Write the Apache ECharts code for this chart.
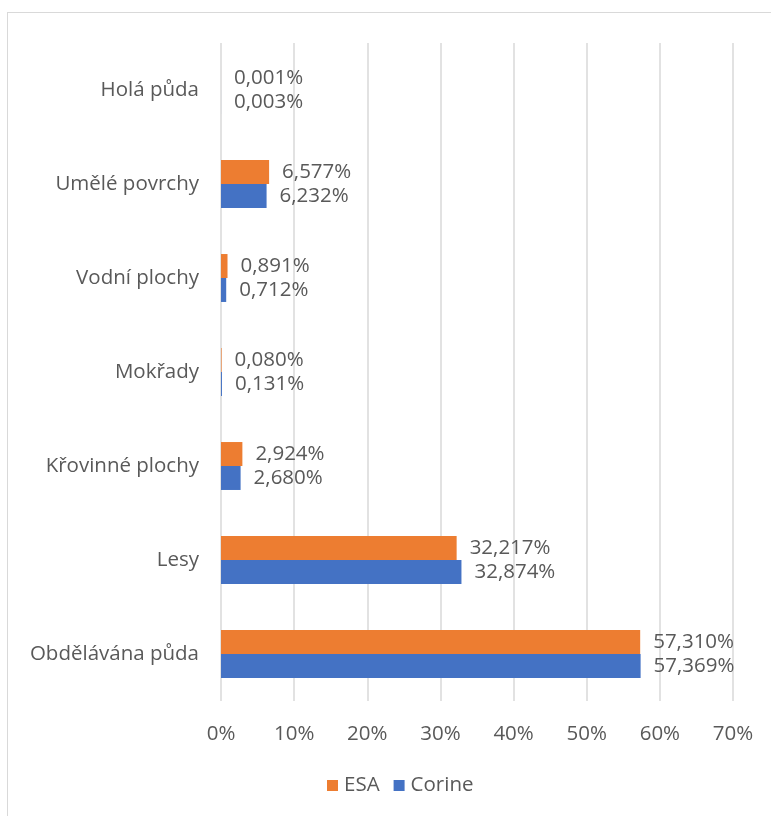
<!DOCTYPE html>
<html><head><meta charset="utf-8">
<script src="https://cdn.jsdelivr.net/npm/echarts@6/dist/echarts.min.js"></script>
<style>
html,body{margin:0;padding:0;background:#fff;}
#frame{position:absolute;left:7px;top:12px;width:780px;height:820px;border:1px solid #d9d9d9;box-sizing:border-box;}
#c{position:absolute;left:0;top:0;width:771px;height:816px;}
</style></head>
<body>
<div id="frame"></div>
<div id="c"></div>
<script>
const categories = ['Obdělávána půda','Lesy','Křovinné plochy','Mokřady','Vodní plochy','Umělé povrchy','Holá půda'];
const esa = [57.310, 32.217, 2.924, 0.080, 0.891, 6.577, 0.001];
const corine = [57.369, 32.874, 2.680, 0.131, 0.712, 6.232, 0.003];
const xTicks = [0,10,20,30,40,50,60,70];

const font = 'Open Sans';
const txt = '#595959';
const fs = 20.5;
const fmt = p => p.value.toFixed(3).replace('.', ',') + '%';
const chart = echarts.init(document.getElementById('c'));
chart.setOption({
  animation:false,
  textStyle:{fontFamily:font},
  grid:{left:221,right:38,top:43,bottom:115,containLabel:false},
  legend:{data:['ESA','Corine'],bottom:15,left:322,itemWidth:11,itemHeight:11,itemGap:14,
    icon:'rect',textStyle:{color:txt,fontSize:fs,fontFamily:font,padding:[0,0,0,1]}},
  xAxis:{type:'value',min:xTicks[0],max:xTicks[xTicks.length-1],interval:10,
    axisLine:{show:false},axisTick:{show:false},
    splitLine:{lineStyle:{color:'#d9d9d9',width:1.5}},
    axisLabel:{color:txt,fontSize:fs,margin:23,formatter:v=>v+'%'}},
  yAxis:{type:'category',data:categories,axisLine:{show:false},axisTick:{show:false},
    axisLabel:{color:txt,fontSize:fs,margin:22}},
  series:[
    {name:'ESA',type:'bar',data:esa,barGap:'0%',barCategoryGap:'49%',
      itemStyle:{color:'#ED7D31'},
      label:{show:true,position:'right',distance:13,color:txt,fontSize:fs,formatter:fmt}},
    {name:'Corine',type:'bar',data:corine,barGap:'0%',barCategoryGap:'49%',
      itemStyle:{color:'#4472C4'},
      label:{show:true,position:'right',distance:13,color:txt,fontSize:fs,formatter:fmt}}
  ]
});
</script>
</body></html>
